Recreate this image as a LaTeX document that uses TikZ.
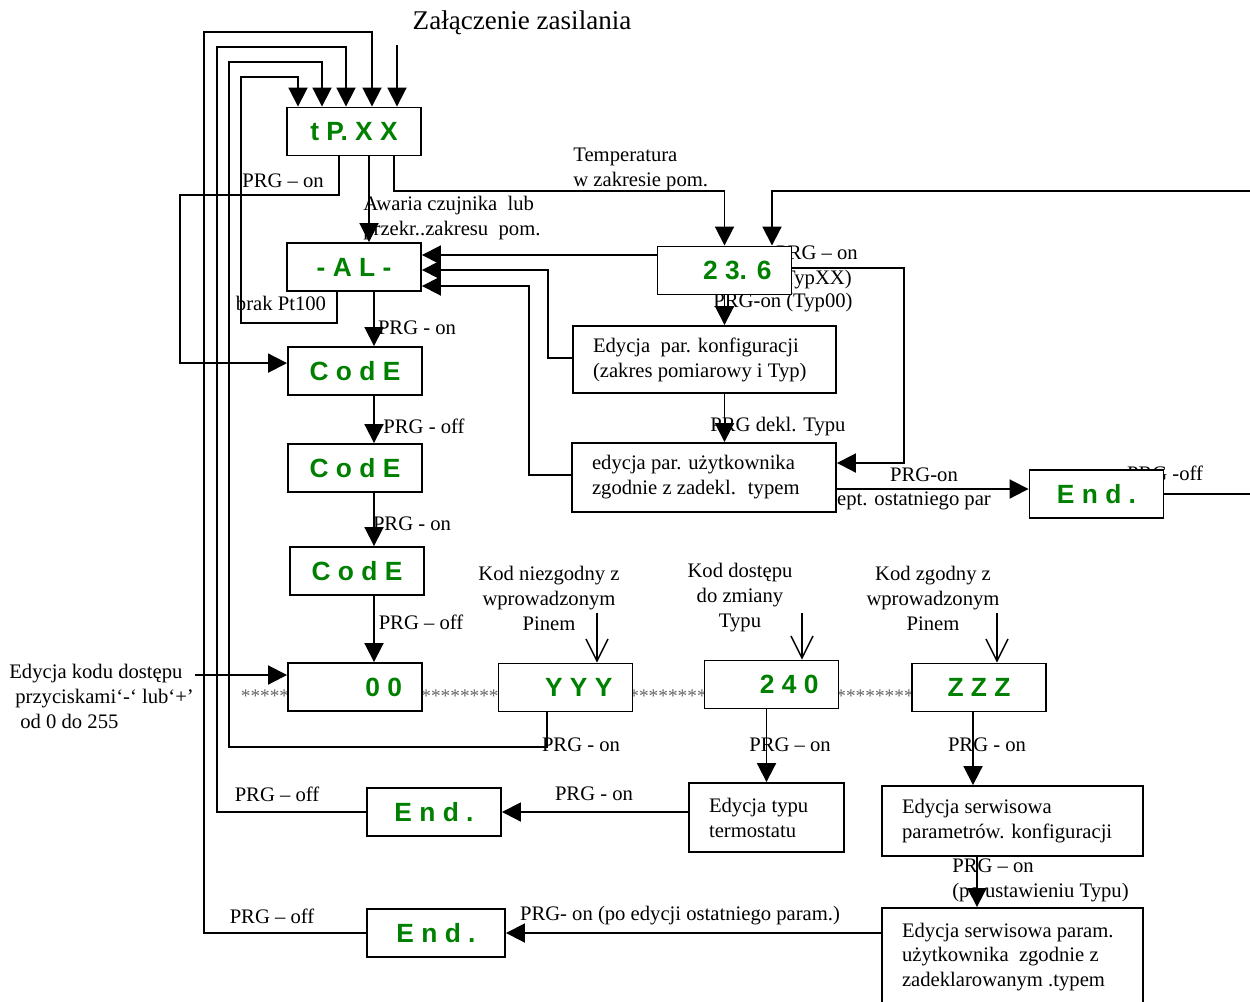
\documentclass[tikz,border=0pt]{standalone}
\usepackage{fontspec}
\setmainfont{Liberation Serif}
\newfontfamily\lcdfont{Liberation Sans}
\usetikzlibrary{arrows.meta}
\definecolor{lcdgreen}{RGB}{0,128,0}

\begin{document}
\begin{tikzpicture}[x=0.02cm, y=-0.02cm,
  lcd/.style={draw, fill=white, line width=1.1pt, minimum width=2.68cm, minimum height=0.96cm, inner sep=0pt, text=lcdgreen, font=\lcdfont\bfseries\fontsize{15}{18}\selectfont},
  lcdr/.style={lcd, inner xsep=0.4cm, text width=1.88cm, align=flush right},
  ebox/.style={draw, fill=white, line width=1.1pt, inner xsep=0.4cm, inner ysep=0pt, align=flush left, font=\fontsize{11.75}{14.2}\selectfont},
  lbl/.style={inner sep=0pt, font=\fontsize{11.75}{14.2}\selectfont},
  stars/.style={inner sep=0pt, text=black!60, anchor=base, font=\fontsize{11}{13}\selectfont},
  arr/.style={line width=1.1pt, -{Triangle[length=3.8mm, width=3.8mm]}},
  barb/.style={line width=0.8pt, -{Straight Barb[length=4.4mm, width=4.4mm]}},
  wire/.style={line width=1.1pt}]
\useasboundingbox (0,0) rectangle (1250,1001);

\node[lbl, font=\fontsize{15.4}{18}\selectfont] (title) at (522,23) {Załączenie zasilania};
\node[lbl] (l1) at (283,181) {PRG – on};
\node[lbl, align=left, anchor=west] (l2) at (363,218) {Awaria czujnika~ lub\\przekr..zakresu~ pom.};
\node[lbl, align=left, anchor=west] (l3) at (573,169) {Temperatura\\ w zakresie pom.};
\node[lbl] (l4) at (281,303) {brak Pt100};
\node[lbl] (l5) at (417,328) {PRG - on};
\node[lbl, align=left, anchor=west] (l6) at (776,267) {PRG – on\\(TypXX)};
\node[lbl] (l7) at (783,303) {PRG-on (Typ00)};
\node[lbl] (l8) at (778,427) {PRG dekl. Typu};
\node[lbl] (l9) at (924,475) {PRG-on};
\node[lbl] (l10) at (914,501) {ept. ostatniego par};
\node[lbl] (l11) at (1165,473) {PRG -off};
\node[lbl] (l12) at (424,426) {PRG - off};
\node[lbl] (l13) at (412,524) {PRG - on};
\node[lbl] (l14) at (421,622) {PRG – off};
\node[lbl, align=left, anchor=west] (l15) at (9,696) {Edycja kodu dostępu\\ \hspace*{0.12cm}przyciskami‘-‘ lub‘+’\\ \hspace*{0.22cm}od 0 do 255};
\node[lbl, align=center] (l16) at (549,598) {Kod niezgodny z\\wprowadzonym\\Pinem};
\node[lbl, align=center] (l17) at (740,598) {Kod dostępu\\do zmiany\\Typu};
\node[lbl, align=center] (l18) at (933,598) {Kod zgodny z\\wprowadzonym\\Pinem};
\node[lbl] (l19) at (581,745) {PRG - on};
\node[lbl] (l20) at (790,745) {PRG – on};
\node[lbl] (l21) at (987,745) {PRG - on};
\node[lbl] (l22) at (277,794) {PRG – off};
\node[lbl] (l23) at (594,794) {PRG - on};
\node[lbl, align=left, anchor=west] (l24) at (952,880) {PRG – on\\(po ustawieniu Typu)};
\node[lbl] (l25) at (272,916) {PRG – off};
\node[lbl] (l26) at (680,916) {PRG- on (po edycji ostatniego param.)};

\node[stars] (s1) at (265,702) {*****};
\node[stars] (s2) at (460,702) {********};
\node[stars] (s3) at (668,702) {********};
\node[stars] (s4) at (875,702) {********};

\node[lcd] (tP) at (354,131.5) {t P. X X};
\node[lcd] (AL) at (354,267) {- A L -};
\node[lcd] (C1) at (355,371) {C o d E};
\node[lcd] (C2) at (355,468) {C o d E};
\node[lcd] (C3) at (357,571) {C o d E};
\node[lcdr] (Z0) at (355,687) {0 0};
\node[lcdr] (YYY) at (565.5,687.5) {Y Y Y};
\node[lcdr] (F240) at (771.5,684.5) {2 4 0};
\node[lcd] (ZZZ) at (979,687.5) {Z Z Z};
\node[lcdr] (T) at (724.5,270.5) {2 3. 6};
\node[ebox, text width=4.46cm, minimum height=1.34cm] (konf) at (704.5,359.5) {Edycja~ par. konfiguracji\\(zakres pomiarowy i Typ)};
\node[ebox, text width=4.48cm, minimum height=1.38cm] (uzyt) at (704,477.5) {edycja par. użytkownika\\zgodnie z zadekl.~ typem};
\node[lcd] (endR) at (1096.5,494) {E n d .};
\node[ebox, text width=2.3cm, minimum height=1.38cm] (typ) at (766.5,817.5) {Edycja typu\\termostatu};
\node[lcd] (endM) at (434,812) {E n d .};
\node[ebox, text width=4.42cm, minimum height=1.4cm] (serwK) at (1012.5,821) {Edycja serwisowa\\parametrów. konfiguracji};
\node[ebox, text width=4.42cm, minimum height=1.96cm] (serwP) at (1012.5,957) {Edycja serwisowa param.\\użytkownika~ zgodnie z\\zadeklarowanym .typem};
\node[lcd, minimum width=2.76cm] (endB) at (436,933) {E n d .};

\coordinate (pwr) at (397,45);
\draw[arr] (pwr) -- (pwr |- tP.north);
\coordinate (k1) at (204,32); \coordinate (j1) at (372,32);
\draw[arr] (endB.west) -| (k1) -- (j1) -- (j1 |- tP.north);
\coordinate (k2) at (217,47); \coordinate (j2) at (346,47);
\draw[arr] (endM.west) -| (k2) -- (j2) -- (j2 |- tP.north);
\coordinate (y1) at (547,747); \coordinate (k3) at (229,62); \coordinate (j3) at (322,62);
\draw[arr] (YYY.south -| y1) -- (y1) -| (k3) -- (j3) -- (j3 |- tP.north);
\coordinate (b1) at (337,323); \coordinate (k4) at (241,77); \coordinate (j4) at (298,77);
\draw[arr] (AL.south -| b1) -- (b1) -| (k4) -- (j4) -- (j4 |- tP.north);
\coordinate (p1) at (339,195); \coordinate (p2) at (180,195);
\draw[arr] (tP.south -| p1) -- (p1) -- (p2) |- ([yshift=4.5pt]C1.west);
\coordinate (a1) at (369,200);
\draw[arr] (tP.south -| a1) -- (AL.north -| a1);
\coordinate (t1) at (394,191);
\draw[arr] (tP.south -| t1) -- (t1) -| (T.north);
\coordinate (r1) at (1250,191); \coordinate (r2) at (772,191);
\draw[arr] (r1) -- (r2) -- (r2 |- T.north);
\coordinate (h1) at (540,255);
\draw[arr] (T.west |- h1) -- (AL.east |- h1);
\coordinate (h2) at (548,270); \coordinate (h2b) at (548,358);
\draw[arr] (konf.west |- h2b) -- (h2b) -- (h2) -- (AL.east |- h2);
\coordinate (h3) at (529,286); \coordinate (h3b) at (529,475);
\draw[arr] (uzyt.west |- h3b) -- (h3b) -- (h3) -- (AL.east |- h3);
\draw[arr] (T.south) -- (T.south |- konf.north);
\draw[arr] (konf.south -| T.south) -- (uzyt.north -| T.south);
\coordinate (h4) at (904,268); \coordinate (h4b) at (904,463);
\draw[arr] (T.east |- h4) -- (h4) -- (h4b) -- (uzyt.east |- h4b);
\coordinate (h5) at (960,489);
\draw[arr] (uzyt.east |- h5) -- (endR.west |- h5);
\coordinate (r3) at (1250,494);
\draw[wire] (endR.east) -- (r3);
\coordinate (cx) at (374,0);
\draw[arr] (AL.south -| cx) -- (C1.north -| cx);
\draw[arr] (C1.south -| cx) -- (C2.north -| cx);
\draw[arr] (C2.south -| cx) -- (C3.north -| cx);
\draw[arr] (C3.south -| cx) -- (Z0.north -| cx);
\coordinate (e1) at (195,675);
\draw[arr] (e1) -- (Z0.west |- e1);
\coordinate (n1) at (597,613); \coordinate (n2) at (802,613); \coordinate (n3) at (997,613);
\draw[barb] (n1) -- (n1 |- YYY.north);
\draw[barb] (n2) -- (n2 |- F240.north);
\draw[barb] (n3) -- (n3 |- ZZZ.north);
\draw[arr] (F240.south -| typ.north) -- (typ.north);
\coordinate (m2) at (973,0);
\draw[arr] (ZZZ.south -| m2) -- (serwK.north -| m2);
\coordinate (m3) at (977,0);
\draw[arr] (serwK.south -| m3) -- (serwP.north -| m3);
\draw[arr] (typ.west |- endM.east) -- (endM.east);
\draw[arr] (serwP.west |- endB.east) -- (endB.east);
\end{tikzpicture}
\end{document}
